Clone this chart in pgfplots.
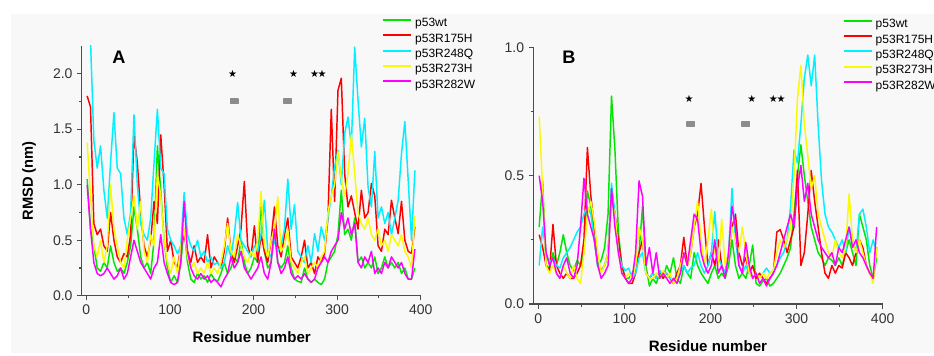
\documentclass[border=0pt]{standalone}
\usepackage{pgfplots}
\pgfplotsset{compat=1.18}
\usepackage{pgfplotstable}
\usepackage{fontspec}
\setmainfont{Liberation Sans}
\newfontfamily\dejavu{DejaVu Sans}
\definecolor{colG}{RGB}{0,230,0}
\definecolor{colR}{RGB}{255,0,0}
\definecolor{colC}{RGB}{0,240,255}
\definecolor{colY}{RGB}{250,250,0}
\definecolor{colM}{RGB}{255,0,255}
\definecolor{bgc}{RGB}{248,248,248}
\definecolor{mk}{RGB}{140,140,140}

\pgfplotstableread{
x g r c y m
1 1.05 1.80 2.30 1.38 1.00
5 0.60 1.70 2.30 0.90 0.60
9 0.45 0.65 1.40 0.45 0.30
13 0.25 0.55 1.15 0.35 0.20
17 0.22 0.60 1.35 0.50 0.18
21 0.30 0.45 0.95 0.30 0.20
25 0.25 0.40 0.70 0.45 0.25
29 0.45 0.75 1.20 1.00 0.20
33 0.30 0.50 1.65 0.60 0.15
37 0.22 0.35 1.15 0.45 0.18
41 0.25 0.30 1.10 0.30 0.25
45 0.20 0.38 0.70 0.25 0.15
49 0.30 0.35 0.55 0.50 0.20
53 0.45 0.55 0.75 0.70 0.35
57 0.80 1.45 1.63 0.90 0.50
61 0.60 1.20 1.00 0.60 0.40
65 0.35 0.75 0.65 0.85 0.30
69 0.25 0.45 0.55 0.40 0.25
73 0.30 0.35 0.50 0.30 0.20
77 0.20 0.50 0.70 0.55 0.15
81 0.50 0.85 1.20 0.45 0.25
85 1.35 0.65 1.68 1.10 0.30
89 0.95 1.45 1.15 0.90 0.55
93 0.50 1.00 1.10 0.50 0.30
97 0.25 0.40 0.60 0.30 0.20
101 0.12 0.50 0.50 0.20 0.12
105 0.18 0.30 0.45 0.35 0.10
109 0.12 0.25 0.38 0.20 0.12
113 0.30 0.45 0.45 0.45 0.30
117 0.60 0.55 0.93 0.60 0.85
121 0.30 0.40 0.55 0.35 0.40
125 0.15 0.30 0.45 0.25 0.25
129 0.12 0.45 0.40 0.30 0.18
133 0.20 0.30 0.50 0.20 0.15
137 0.15 0.35 0.35 0.25 0.20
141 0.18 0.30 0.40 0.20 0.15
145 0.12 0.55 0.30 0.30 0.18
149 0.20 0.25 0.35 0.20 0.12
153 0.15 0.35 0.28 0.25 0.15
157 0.13 0.30 0.30 0.20 0.12
161 0.20 0.25 0.25 0.30 0.08
165 0.30 0.40 0.30 0.45 0.15
169 0.20 0.70 0.45 0.65 0.20
173 0.25 0.40 0.35 0.40 0.35
177 0.35 0.30 0.55 0.35 0.25
181 0.30 0.45 0.84 0.55 0.30
185 0.50 0.60 0.50 0.45 0.40
189 0.30 1.03 0.45 0.35 0.25
193 0.20 0.45 0.40 0.30 0.20
197 0.25 0.35 0.35 0.40 0.15
201 0.35 0.63 0.45 0.35 0.20
205 0.30 0.30 0.40 0.50 0.25
209 0.85 0.55 0.55 0.94 0.35
213 0.40 0.40 0.86 0.45 0.20
217 0.25 0.30 0.40 0.35 0.15
221 0.30 0.50 0.35 0.50 0.30
225 0.60 0.80 0.50 0.60 0.60
229 0.30 0.45 0.40 0.89 0.30
233 0.25 0.35 0.45 0.40 0.20
237 0.30 0.55 0.60 0.45 0.25
241 0.45 0.70 1.05 0.60 0.35
245 0.25 0.35 0.60 0.30 0.20
249 0.15 0.30 0.82 0.25 0.15
253 0.13 0.25 0.40 0.20 0.18
257 0.12 0.35 0.35 0.30 0.15
261 0.25 0.50 0.30 0.35 0.20
265 0.15 0.25 0.45 0.20 0.15
269 0.12 0.30 0.30 0.25 0.12
273 0.15 0.20 0.56 0.30 0.15
277 0.12 0.35 0.40 0.25 0.25
281 0.10 0.30 0.62 0.35 0.30
285 0.15 0.38 0.50 0.40 0.35
289 0.30 0.70 0.70 0.75 0.30
293 0.35 1.68 0.90 0.90 0.40
297 0.40 0.85 1.16 1.00 0.45
301 0.55 1.85 1.31 1.30 0.50
305 0.95 1.96 1.00 1.05 0.75
309 0.55 1.10 1.46 0.90 0.60
313 0.60 0.80 1.61 1.10 0.70
317 0.50 0.90 1.35 1.45 0.55
321 0.70 0.75 2.24 1.10 0.65
325 0.30 0.60 1.76 0.75 0.30
329 0.35 0.95 1.34 0.65 0.25
333 0.25 0.70 1.60 0.60 0.35
337 0.30 0.75 0.98 0.70 0.30
341 0.25 1.01 0.80 0.55 0.40
345 0.35 0.90 1.30 0.50 0.20
349 0.20 0.45 0.70 0.60 0.25
353 0.25 0.40 0.80 0.45 0.20
357 0.35 0.60 0.65 0.50 0.30
361 0.25 0.55 0.75 0.40 0.25
365 0.30 0.86 0.55 0.55 0.35
369 0.25 0.70 0.70 0.50 0.30
373 0.30 0.56 0.86 0.45 0.25
377 0.20 0.85 1.28 0.55 0.30
381 0.25 0.50 1.57 0.40 0.20
385 0.15 0.40 1.04 0.35 0.15
389 0.15 0.38 0.50 0.25 0.15
393 0.25 0.62 1.13 0.72 0.42
}\dataA

\pgfplotstableread{
x g r c y m
1 0.30 0.27 0.15 0.73 0.50
5 0.48 0.22 0.30 0.45 0.40
9 0.15 0.15 0.20 0.15 0.20
13 0.14 0.13 0.16 0.12 0.15
17 0.20 0.31 0.18 0.15 0.18
21 0.15 0.15 0.15 0.12 0.12
25 0.20 0.12 0.14 0.10 0.10
29 0.27 0.10 0.18 0.15 0.15
33 0.20 0.12 0.20 0.12 0.18
37 0.15 0.10 0.22 0.10 0.12
41 0.13 0.10 0.25 0.15 0.10
45 0.17 0.12 0.28 0.10 0.15
49 0.15 0.15 0.30 0.08 0.30
53 0.20 0.25 0.35 0.20 0.49
57 0.44 0.61 0.38 0.35 0.35
61 0.38 0.42 0.35 0.40 0.30
65 0.25 0.30 0.25 0.32 0.25
69 0.15 0.15 0.15 0.20 0.15
73 0.17 0.13 0.13 0.12 0.10
77 0.22 0.15 0.15 0.15 0.12
81 0.35 0.20 0.20 0.20 0.15
85 0.81 0.44 0.47 0.40 0.45
89 0.60 0.35 0.35 0.35 0.30
93 0.28 0.25 0.20 0.20 0.20
97 0.15 0.15 0.15 0.12 0.12
101 0.10 0.10 0.13 0.10 0.10
105 0.10 0.08 0.14 0.12 0.08
109 0.12 0.08 0.10 0.10 0.10
113 0.15 0.12 0.12 0.15 0.20
117 0.20 0.20 0.18 0.30 0.48
121 0.38 0.25 0.20 0.25 0.42
125 0.15 0.12 0.12 0.12 0.15
129 0.07 0.10 0.10 0.10 0.22
133 0.10 0.12 0.12 0.10 0.12
137 0.08 0.10 0.10 0.12 0.20
141 0.12 0.13 0.13 0.10 0.10
145 0.10 0.10 0.11 0.13 0.12
149 0.15 0.12 0.12 0.10 0.10
153 0.12 0.10 0.10 0.12 0.08
157 0.18 0.08 0.09 0.08 0.10
161 0.10 0.12 0.10 0.10 0.08
165 0.08 0.15 0.12 0.15 0.12
169 0.15 0.26 0.15 0.20 0.20
173 0.12 0.15 0.12 0.15 0.15
177 0.10 0.20 0.14 0.20 0.25
181 0.20 0.30 0.15 0.30 0.35
185 0.15 0.35 0.20 0.40 0.33
189 0.12 0.47 0.15 0.25 0.20
193 0.10 0.30 0.12 0.15 0.15
197 0.08 0.15 0.15 0.25 0.12
201 0.12 0.20 0.20 0.37 0.15
205 0.15 0.15 0.36 0.20 0.25
209 0.10 0.25 0.18 0.15 0.12
213 0.12 0.15 0.15 0.33 0.15
217 0.10 0.12 0.12 0.15 0.10
221 0.15 0.20 0.20 0.20 0.20
225 0.25 0.30 0.45 0.30 0.38
229 0.15 0.35 0.25 0.25 0.30
233 0.10 0.20 0.15 0.20 0.15
237 0.12 0.15 0.12 0.30 0.12
241 0.10 0.18 0.15 0.20 0.24
245 0.15 0.12 0.12 0.12 0.15
249 0.23 0.15 0.10 0.10 0.10
253 0.08 0.10 0.12 0.12 0.12
257 0.07 0.12 0.10 0.10 0.08
261 0.09 0.10 0.12 0.12 0.10
265 0.10 0.08 0.14 0.10 0.07
269 0.07 0.10 0.12 0.12 0.10
273 0.08 0.12 0.13 0.13 0.12
277 0.10 0.28 0.15 0.20 0.15
281 0.12 0.29 0.18 0.25 0.20
285 0.15 0.25 0.20 0.22 0.25
289 0.18 0.20 0.25 0.25 0.30
293 0.22 0.25 0.38 0.30 0.35
297 0.35 0.30 0.60 0.50 0.30
301 0.50 0.52 0.55 0.80 0.45
305 0.62 0.15 0.70 0.93 0.54
309 0.50 0.20 0.88 0.70 0.40
313 0.40 0.35 0.97 0.58 0.47
317 0.30 0.52 0.85 0.45 0.35
321 0.25 0.40 0.97 0.50 0.30
325 0.20 0.30 0.70 0.35 0.25
329 0.18 0.20 0.48 0.30 0.22
333 0.15 0.12 0.35 0.25 0.20
337 0.18 0.10 0.30 0.20 0.18
341 0.17 0.15 0.28 0.18 0.20
345 0.15 0.12 0.25 0.25 0.15
349 0.18 0.15 0.22 0.20 0.22
353 0.15 0.14 0.25 0.18 0.20
357 0.20 0.20 0.20 0.22 0.25
361 0.25 0.18 0.30 0.43 0.30
365 0.20 0.15 0.25 0.25 0.22
369 0.15 0.20 0.20 0.20 0.25
373 0.35 0.25 0.35 0.25 0.20
377 0.30 0.22 0.37 0.20 0.18
381 0.25 0.15 0.30 0.15 0.15
385 0.15 0.12 0.20 0.12 0.12
389 0.10 0.10 0.25 0.08 0.10
393 0.18 0.22 0.20 0.22 0.30
}\dataB

\pgfplotsset{
  rmsd/.style={
    scale only axis,
    axis lines=left,
    axis line style={-, line width=0.9pt, black!70},
    tick align=outside,
    tick style={black!70, line width=0.8pt},
    major tick length=3.4pt, minor tick length=2pt,
    xmax=400, ymin=0,
    xtick={0,100,200,300,400},
    minor x tick num=1, minor y tick num=1,
    tick label style={font=\fontsize{10.5}{12}\selectfont, text=black!80},
    /pgf/number format/assume math mode=true,
    yticklabel style={/pgf/number format/.cd, fixed, fixed zerofill, precision=1, /tikz/.cd},
    xlabel={Residue number},
    xlabel style={font=\fontsize{11.3}{13}\selectfont\bfseries, anchor=center},
    legend cell align=left,
    legend image code/.code={\draw[##1, line width=1.4pt] (0pt,3pt) -- (21pt,3pt);},
    every axis plot/.append style={line width=1.1pt, line join=round},
  },
  lgd/.style={
    legend style={at={(axis description cs:#1)}, anchor=north west, draw=none, fill=none,
      inner sep=0pt, outer sep=0pt, row sep=0pt,
      font=\fontsize{9}{10}\selectfont,
      nodes={inner sep=0pt, text height=8pt, text depth=3.5pt},
      /tikz/every odd column/.append style={column sep=2.4pt}},
  },
  starmk/.style={forget plot, only marks, mark=text, text mark={\fontsize{7.5}{8}\selectfont\dejavu ★}},
  rectmk/.style={forget plot, only marks, mark=square*, mark size=1.7pt, mk, mark options={xscale=1.6, fill=mk, draw=mk}},
}

\begin{document}
\begin{tikzpicture}
\useasboundingbox (0,0) rectangle (700.5pt,267pt);
\fill[bgc] (8.25pt,2.25pt) rectangle (700.5pt,256.5pt);

% Panel A
\begin{axis}[rmsd, lgd={0.886,1.119},
  at={(61.3pt,45.2pt)}, anchor=south west,
  width=254.25pt, height=187.3pt,
  xmin=-5.5, ymax=2.25,
  ytick={0,0.5,1,1.5,2},
  ylabel={RMSD (nm)},
  ylabel style={font=\fontsize{11}{13}\selectfont\bfseries, at={(axis description cs:-0.155,0.46)}, anchor=center},
  xlabel style={at={(axis description cs:0.5015,-0.164)}},
]
\addplot[colG] table[x=x,y=g] {\dataA};
\addplot[colR] table[x=x,y=r] {\dataA};
\addplot[colC] table[x=x,y=c] {\dataA};
\addplot[colY] table[x=x,y=y] {\dataA};
\addplot[colM] table[x=x,y=m] {\dataA};
\legend{p53wt,p53R175H,p53R248Q,p53R273H,p53R282W}
\addplot[starmk] coordinates {(175,2.0) (248,2.0) (273,2.0) (282,2.0)};
\addplot[rectmk] coordinates {(177,1.75) (241,1.75)};
\node[font=\fontsize{13.6}{15}\selectfont\bfseries] at (axis description cs:0.11,0.955) {A};
\end{axis}

% Panel B
\begin{axis}[rmsd, lgd={0.8855,1.118},
  at={(400pt,39pt)}, anchor=south west,
  width=262pt, height=192.5pt,
  xmin=-5.8, ymax=1.0,
  ytick={0,0.5,1},
  xlabel style={at={(axis description cs:0.5,-0.164)}},
]
\addplot[colG] table[x=x,y=g] {\dataB};
\addplot[colR] table[x=x,y=r] {\dataB};
\addplot[colC] table[x=x,y=c] {\dataB};
\addplot[colY] table[x=x,y=y] {\dataB};
\addplot[colM] table[x=x,y=m] {\dataB};
\legend{p53wt,p53R175H,p53R248Q,p53R273H,p53R282W}
\addplot[starmk] coordinates {(175,0.8) (248,0.8) (273,0.8) (282,0.8)};
\addplot[rectmk] coordinates {(177,0.7) (241,0.7)};
\node[font=\fontsize{13.6}{15}\selectfont\bfseries] at (axis description cs:0.102,0.963) {B};
\end{axis}
\end{tikzpicture}
\end{document}
